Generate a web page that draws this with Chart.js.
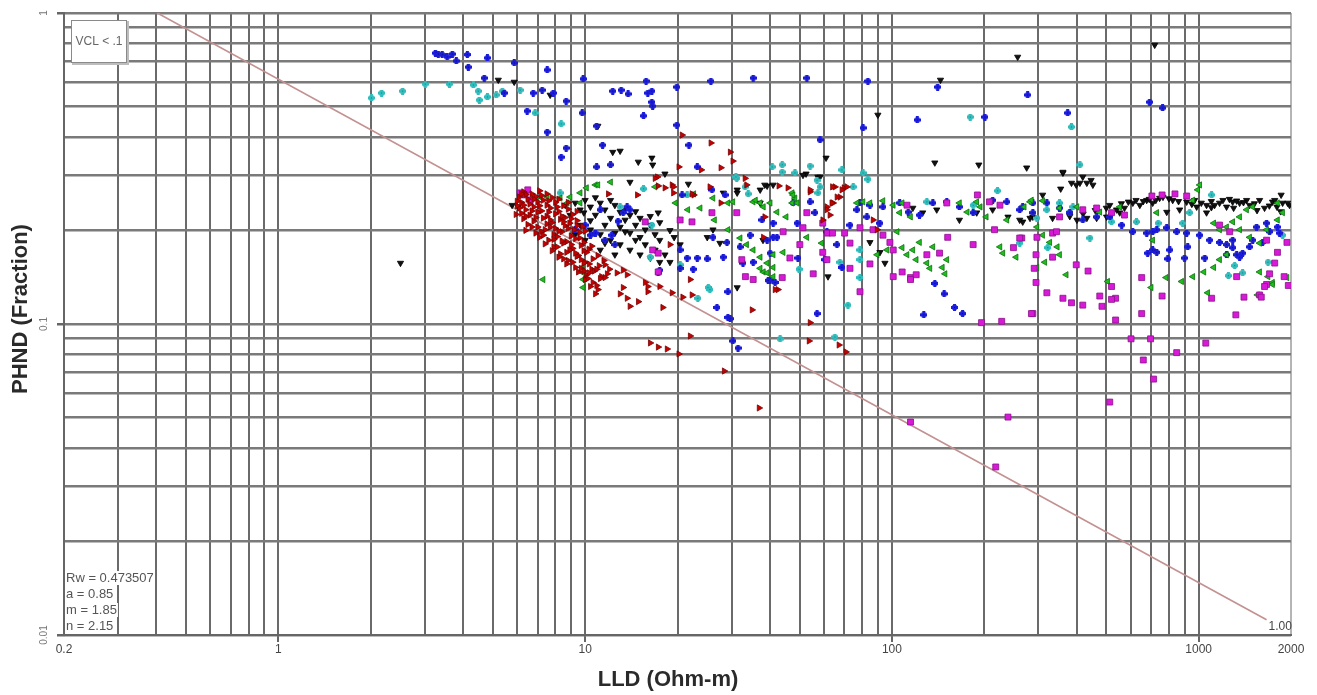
<!DOCTYPE html>
<html>
<head>
<meta charset="utf-8">
<title>Pickett plot - PHND vs LLD</title>
<script src="https://cdn.jsdelivr.net/npm/chart.js@4.4.1/dist/chart.umd.min.js"></script>
<style>
  html, body { margin: 0; padding: 0; background: #fff; }
  #wrap { width: 1317px; height: 695px; }
</style>
</head>
<body>
<div id="wrap"><canvas id="chart" width="1317" height="695"></canvas></div>
<script>
// Axis grid values and tick labels
const xGridValues = [0.2, 0.3, 0.4, 0.5, 0.6, 0.7, 0.8, 0.9, 1, 2, 3, 4, 5, 6, 7, 8, 9,
  10, 20, 30, 40, 50, 60, 70, 80, 90, 100, 200, 300, 400, 500, 600, 700, 800, 900, 1000, 2000];
const yGridValues = [0.01, 0.02, 0.03, 0.04, 0.05, 0.06, 0.07, 0.08, 0.09,
  0.1, 0.2, 0.3, 0.4, 0.5, 0.6, 0.7, 0.8, 0.9, 1];
const xLabelValues = [0.2, 1, 10, 100, 1000, 2000];
const xLabelTexts = ['0.2', '1', '10', '100', '1000', '2000'];
const yLabelValues = [0.01, 0.1, 1];
const yLabelTexts = ['0.01', '0.1', '1'];

// Sw = 1.00 line end points (LLD, PHND)
const swLine = [[0.403, 1], [1665, 0.0112]];
const swLabel = '1.00';
const paramLines = ['Rw = 0.473507', 'a = 0.85', 'm = 1.85', 'n = 2.15'];
const filterLabel = 'VCL < .1';

// Series, [LLD, PHND]
const redPts = [
  [6.3,0.266],[6.7,0.262],[7.1,0.268],[6.1,0.256],[6.5,0.252],[6.9,0.257],[7.3,0.250],[7.8,0.255],
  [6.2,0.246],[6.6,0.243],[7.0,0.247],[7.5,0.241],[8.0,0.246],[8.5,0.240],
  [6.1,0.236],[6.4,0.233],[6.8,0.238],[7.2,0.231],[7.7,0.236],[8.2,0.230],[8.8,0.234],
  [6.2,0.227],[6.6,0.224],[7.0,0.229],[7.5,0.222],[8.0,0.226],[8.6,0.220],[9.1,0.225],
  [6.3,0.218],[6.8,0.214],[7.3,0.219],[7.8,0.212],[8.3,0.217],[8.9,0.211],[9.4,0.215],
  [6.5,0.209],[7.0,0.205],[7.5,0.210],[8.0,0.203],[8.6,0.207],[9.2,0.201],[9.8,0.206],
  [6.4,0.200],[6.9,0.196],[7.4,0.201],[7.9,0.194],[8.4,0.198],[9.0,0.192],[9.6,0.197],
  [7.1,0.190],[7.6,0.186],[8.1,0.191],[8.7,0.184],[9.3,0.188],[9.9,0.183],
  [7.4,0.181],[7.9,0.177],[8.5,0.182],[9.1,0.175],[9.7,0.179],[10.3,0.174],
  [7.8,0.172],[8.3,0.168],[8.9,0.173],[9.5,0.166],[10.1,0.170],
  [8.2,0.164],[8.8,0.160],[9.4,0.165],[10.0,0.158],[10.6,0.162],
  [8.7,0.156],[9.3,0.152],[9.9,0.157],[10.5,0.150],[11.1,0.154],
  [9.5,0.147],[10.1,0.144],[10.7,0.148],[11.3,0.142],
  [10.0,0.139],[10.6,0.136],[11.2,0.140],[10.4,0.132],[11.0,0.129],[10.8,0.125],
  [6.0,0.240],[5.95,0.225],[11.5,0.160],[12.0,0.150],[11.8,0.145],
  [6.4,0.261],[6.8,0.252],[7.2,0.259],[7.6,0.249],[6.3,0.241],[6.7,0.231],[7.1,0.240],[7.6,0.229],
  [8.1,0.238],[8.4,0.222],[6.4,0.222],[6.9,0.220],[7.7,0.216],[8.5,0.213],[9.0,0.218],[6.7,0.205],
  [7.2,0.198],[7.7,0.205],[8.2,0.199],[8.8,0.203],[9.4,0.207],[7.3,0.193],[7.9,0.187],[8.4,0.185],
  [9.0,0.180],[9.6,0.189],[8.1,0.177],[8.7,0.170],[9.3,0.169],[9.9,0.172],[8.5,0.162],[9.1,0.158],
  [9.7,0.161],[10.3,0.156],[9.7,0.151],[10.3,0.146],[10.9,0.150],[10.2,0.140],[10.9,0.133],[9.9,0.148],
  [6.2,0.262],[6.0,0.248],[7.5,0.262],[8.2,0.252],[8.8,0.246],[9.4,0.230],[10.0,0.199],[10.5,0.178],
  [11.0,0.166],[11.6,0.155],
  [17.2,0.297],[19.2,0.280],[19.4,0.264],[14.8,0.260],[11.9,0.262],[18.2,0.274],[25.5,0.276],[22.6,0.260],
  [38.1,0.190],[18.9,0.180],[13.3,0.149],[13.7,0.144],[11.6,0.141],[13.3,0.131],[13.7,0.121],[12.7,0.146],
  [14.0,0.114],[14.9,0.118],[15.7,0.136],[16.0,0.132],[17.5,0.132],[19.2,0.126],[20.8,0.122],[22.0,0.139],
  [17.9,0.113],[35.0,0.111],[42.5,0.129],[13.0,0.125],[16.0,0.127],[22.3,0.124],
  [54.1,0.101],[53.7,0.0882],[67.2,0.0856],[70.8,0.0813],[22.0,0.0915],[16.3,0.0869],[17.3,0.0843],
  [18.5,0.0831],[20.2,0.0801],[28.4,0.0706],[36.9,0.0537],
  [20.7,0.405],[25.7,0.382],[29.7,0.357],[30.3,0.334],[20.2,0.320],[23.9,0.313],[27.7,0.318],[16.9,0.294],
  [19.4,0.276],[33.2,0.294],[33.6,0.280],[42.8,0.278],[54.1,0.266],[65.2,0.276],[69.8,0.274],[67.7,0.256],
  [64.3,0.245],[61.4,0.238],[17.3,0.278],[22.3,0.262],[27.7,0.245],
  [61.4,0.233],[63.7,0.245],[66.2,0.256],[68.7,0.270],[71.3,0.276],[64.0,0.276],[62.8,0.224],[59.5,0.216],
  [45.8,0.274],[54.1,0.270],[38.5,0.221],[86.8,0.216],[89.5,0.201],[41.6,0.129]
];

const magentaPts = [
  [6.14,0.264],[6.37,0.260],[6.62,0.250],[6.5,0.270],
  [15.7,0.213],[16.6,0.173],[17.3,0.169],[20.4,0.216],[22.3,0.213],[25.9,0.228],[31.2,0.228],[32.4,0.161],
  [35.3,0.139],[33.3,0.142],[17.3,0.147],
  [44.2,0.198],[51.3,0.204],[59.5,0.211],[61.6,0.196],[64.0,0.196],[70.1,0.196],[78.7,0.204],[86.8,0.201],
  [93.5,0.193],[98.5,0.183],[101,0.173],[59.5,0.170],[61.4,0.161],[73.0,0.182],[73.0,0.151],[55.4,0.145],
  [43.9,0.141],[46.5,0.163],[50.1,0.180],[52.8,0.228],[78.7,0.127],[84.8,0.156],[101,0.142],[108,0.147],
  [115,0.141],[120,0.144],[130,0.167],[143,0.169],[152,0.190],[184,0.180],[190,0.260],[216,0.201],
  [249,0.176],[265,0.189],[196,0.101],[228,0.102],[288,0.108],[112,0.241],[151,0.245],[208,0.247],[225,0.241],
  [261,0.189],[297,0.190],[334,0.196],[344,0.198],[295,0.167],[334,0.164],[291,0.151],[295,0.136],
  [320,0.126],[361,0.121],[385,0.117],[419,0.115],[399,0.155],[436,0.148],[476,0.123],[484,0.114],
  [520,0.132],[536,0.121],[536,0.103],[652,0.141],[652,0.108],[602,0.0896],[697,0.0896],[848,0.0809],
  [660,0.0766],[760,0.123],[1055,0.0868],[1102,0.121],[1322,0.107],[1330,0.142],[1405,0.122],[1580,0.124],
  [1665,0.134],[1703,0.145],[1770,0.157],[1807,0.170],[1940,0.183],[1900,0.142],
  [704,0.258],[760,0.260],[837,0.262],[914,0.258],[520,0.228],[573,0.224],[465,0.236],[419,0.233],
  [352,0.221],[1170,0.208],[1262,0.198],[1665,0.186],
  [115,0.139],[115,0.0484],[218,0.0347],[239,0.0502],[513,0.0561],[713,0.0665],[520,0.120],[285,0.108],
  [1600,0.122],[1640,0.132],[1960,0.133]
];

const greenPts = [
  [6.77,0.254],[7.13,0.256],[7.52,0.256],[8.29,0.254],[8.93,0.256],[9.63,0.264],[10.1,0.274],[10.8,0.280],
  [11.0,0.280],[12.1,0.286],[9.63,0.245],[8.74,0.245],[9.78,0.152],[9.85,0.146],[9.85,0.139],[9.85,0.131],
  [7.29,0.139],[16.9,0.276],[19.7,0.245],[21.6,0.233],[23.7,0.236],[26.4,0.216],[29.2,0.201],[32.0,0.189],
  [33.6,0.180],[35.3,0.173],[37.2,0.164],[39.2,0.157],[38.1,0.147],[41.0,0.142],[26.1,0.254],[30.3,0.247],
  [35.3,0.247],[38.1,0.238],[42.2,0.229],[22.6,0.262],[29.2,0.245],[35.9,0.250],[37.2,0.245],[47.3,0.264],
  [48.3,0.254],[47.3,0.245],[80.5,0.247],[84.8,0.245],[93.5,0.249],[108,0.245],[189,0.247],[282,0.247],[310,0.249],
  [40.1,0.245],[47.6,0.260],[49.1,0.245],[45.2,0.221],[41.0,0.167],[37.2,0.151],[39.2,0.146],[41.0,0.152],
  [44.2,0.170],[59.0,0.182],[52.8,0.190],[76.9,0.245],[101,0.241],[106,0.228],[115,0.221],[104,0.198],
  [108,0.176],[112,0.167],[117,0.173],[120,0.161],[130,0.157],[133,0.151],[136,0.177],[151,0.161],
  [146,0.152],[149,0.145],[166,0.245],[176,0.229],[194,0.238],[203,0.221],[225,0.177],[230,0.169],
  [254,0.164],[237,0.216],[270,0.238],[123,0.183],[89.5,0.167],[96.4,0.173],
  [285,0.250],[297,0.205],[310,0.193],[327,0.183],[346,0.177],[352,0.167],[315,0.158],[297,0.152],
  [370,0.144],[505,0.137],[700,0.131],[783,0.141],[880,0.137],[957,0.142],[1040,0.147],[1120,0.152],
  [1170,0.161],[1233,0.167],[1070,0.126],[1580,0.147],[1683,0.142],[1741,0.136],[1940,0.141],
  [1008,0.280],[993,0.270],[957,0.250],[1120,0.211],[1170,0.201],[1233,0.205],[1291,0.213],[1360,0.221],
  [1433,0.233],[1500,0.238],[1360,0.201],[1466,0.190],[1580,0.182],[1665,0.201],[1807,0.216],[1878,0.228],
  [1807,0.245],[352,0.236],[401,0.238],[476,0.229],[553,0.238],[730,0.228],[708,0.186],[1555,0.124],[1741,0.134]
];

const bluePts = [
  [3.25,0.743],[3.32,0.738],[3.42,0.735],[3.55,0.722],[3.69,0.738],[3.80,0.701],[4.13,0.735],[4.80,0.717],
  [4.16,0.670],[5.87,0.691],[4.69,0.618],[5.45,0.553],[7.52,0.656],[9.85,0.614],[6.77,0.553],[7.24,0.565],
  [7.87,0.553],[8.67,0.521],[6.47,0.484],[9.78,0.477],[7.52,0.414],[8.67,0.368],[8.35,0.344],[12.3,0.561],
  [13.1,0.565],[13.8,0.549],[15.8,0.604],[16.5,0.561],[16.0,0.553],[16.5,0.517],[16.6,0.502],[15.5,0.467],
  [19.9,0.578],[19.9,0.436],[21.8,0.376],[10.9,0.433],[11.4,0.376],[10.9,0.320],[12.1,0.325],[23.2,0.320],
  [25.7,0.604],[35.3,0.618],[52.8,0.618],[83.5,0.604],[58.3,0.391],[80.5,0.427],[141,0.578],[121,0.453],
  [201,0.463],[277,0.545],[374,0.477],[692,0.517],[763,0.495],[28.6,0.260],[25.9,0.270],[20.7,0.260],
  [37.7,0.216],[41.0,0.190],[47.6,0.245],[49.1,0.211],[54.1,0.247],[56.1,0.228],[61.4,0.198],[66.2,0.180],
  [73.0,0.208],[76.9,0.233],[82.9,0.221],[91.4,0.211],[78.7,0.245],[84.8,0.241],[93.5,0.238],[106,0.245],
  [113,0.229],[123,0.224],[136,0.245],[151,0.247],[166,0.238],[184,0.228],[213,0.250],[237,0.247],
  [261,0.233],[288,0.228],[40.1,0.138],[41.6,0.136],[138,0.135],[148,0.125],[160,0.113],[170,0.108],
  [127,0.107],[57.0,0.108],[49.4,0.163],[60.5,0.161],[68.7,0.152],
  [267,0.238],[288,0.245],[320,0.245],[352,0.236],[380,0.228],[419,0.216],[465,0.221],[513,0.221],
  [561,0.208],[610,0.198],[677,0.196],[708,0.198],[730,0.201],[787,0.204],[848,0.198],[914,0.196],
  [1008,0.193],[682,0.169],[708,0.173],[730,0.170],[805,0.173],[793,0.162],[900,0.163],[921,0.177],
  [1047,0.163],[1086,0.186],[1170,0.183],[1233,0.180],[1291,0.176],[1330,0.167],[1391,0.169],[1466,0.177],
  [1500,0.186],[1616,0.183],[1703,0.198],[1836,0.196],[1233,0.167],[1360,0.164],[1291,0.186],[1545,0.205],
  [1665,0.211],[1807,0.205],
  [13.7,0.238],[14.0,0.233],[13.3,0.228],[11.2,0.233],[10.8,0.196],[12.2,0.193],[20.4,0.173],[21.5,0.163],
  [23.2,0.163],[25.0,0.162],[20.4,0.151],[22.5,0.150],[17.5,0.149],[17.3,0.146],[26.9,0.113],[29.2,0.105],
  [29.2,0.127],[32.7,0.157],[35.3,0.158],[26.1,0.190],[29.0,0.183],[32.0,0.177],[28.2,0.164],[34.5,0.193],
  [39.2,0.186],[41.0,0.211],[40.1,0.169],[42.2,0.190],[29.7,0.104],[30.3,0.0882],[31.5,0.0837],[39.5,0.138],
  [9.27,0.201],[10.0,0.208],[10.4,0.193],[11.6,0.186],[12.5,0.180],[12.8,0.214]
];

const cyanPts = [
  [2.01,0.533],[2.17,0.553],[2.54,0.561],[3.01,0.591],[3.61,0.591],[4.32,0.587],[4.48,0.561],[4.52,0.525],
  [4.80,0.537],[5.13,0.545],[5.37,0.561],[6.14,0.565],[6.87,0.477],[8.35,0.440],
  [8.29,0.264],[15.5,0.272],[13.0,0.238],[16.5,0.208],[16.3,0.164],[31.2,0.294],[33.2,0.276],[21.5,0.260],
  [25.2,0.131],[23.3,0.121],[20.4,0.155],[40.7,0.320],[43.9,0.325],[54.1,0.322],[68.7,0.313],[80.5,0.306],
  [83.5,0.292],[31.0,0.297],[48.3,0.306],[57.0,0.290],[58.3,0.276],[180,0.463],[385,0.430],[410,0.325],
  [221,0.268],[34.0,0.262],[43.9,0.308],[57.4,0.264],[74.8,0.276],[78.7,0.173],[78.7,0.161],[49.8,0.150],
  [67.7,0.158],[78.7,0.141],[71.9,0.115],[43.2,0.0895],[65.2,0.0908],[130,0.247],[184,0.241],[261,0.182],
  [25.5,0.129],
  [320,0.233],[352,0.245],[389,0.238],[380,0.229],[442,0.189],[520,0.213],[627,0.213],[738,0.211],
  [887,0.211],[935,0.228],[1102,0.260],[1310,0.154],[1250,0.143],[1391,0.146],[1683,0.158],[1878,0.193],
  [322,0.176],[297,0.219]
];

const blackPts = [
  [257,0.722],[719,0.789],[144,0.609],[90.0,0.470],[5.21,0.609],[5.87,0.600],[7.69,0.545],[11.0,0.433],
  [12.3,0.357],[13.0,0.360],[14.9,0.332],[16.5,0.342],[16.6,0.325],[18.2,0.304],[21.7,0.282],[14.0,0.286],
  [17.3,0.228],[61.0,0.342],[138,0.330],[192,0.325],[275,0.318],[361,0.306],[355,0.272],[385,0.284],
  [410,0.284],[432,0.284],[452,0.280],[419,0.297],[361,0.308],[399,0.280],[446,0.290],[52.5,0.304],
  [57.4,0.297],[39.2,0.278],[41.0,0.280],[31.3,0.270],[310,0.260],[2.50,0.157],
  [26.1,0.201],[25.0,0.190],[27.5,0.182],[28.2,0.264],[31.3,0.264],[37.2,0.270],[31.3,0.131],[38.5,0.280],
  [37.2,0.245],[38.0,0.186],[51.3,0.301],[58.3,0.297],[84.8,0.183],[91.4,0.170],[94.9,0.157],[61.9,0.142],
  [117,0.236],[126,0.228],[140,0.233],[166,0.216],[189,0.228],[213,0.233],[239,0.221],[267,0.213],[288,0.221],
  [610,0.245],[677,0.250],[746,0.254],[823,0.250],[914,0.247],[985,0.238],[1061,0.241],[1170,0.245],
  [1291,0.247],[1433,0.250],[1580,0.250],[1741,0.247],[1878,0.245],[1978,0.241],[1857,0.260],[1360,0.245],
  [261,0.216],[282,0.219],[334,0.219],[401,0.216],[432,0.219],[465,0.219],[501,0.221],[553,0.228],
  [787,0.229],[867,0.233],[1061,0.228],[1233,0.238],
  [513,0.241],[573,0.236],[643,0.241],[708,0.245],[970,0.250],[1127,0.241],[1466,0.241],[1640,0.236],[1770,0.250],
  [560,0.244],[590,0.247],[625,0.250],[660,0.248],[690,0.252],[725,0.250],[765,0.256],[800,0.253],
  [860,0.248],[950,0.243],[1020,0.245],[1100,0.248],[1200,0.250],[1260,0.252],[1330,0.249],[1400,0.246],
  [1520,0.244],[1700,0.240],[1800,0.238],[1950,0.245],[1100,0.237],[1300,0.236],[1550,0.232],[1850,0.230],
  [380,0.222],[420,0.226],[460,0.232],[500,0.236],[540,0.233],
  [9.28,0.245],[9.63,0.233],[10.0,0.250],[10.4,0.238],[10.8,0.224],[11.2,0.245],[11.6,0.233],[12.1,0.219],
  [12.5,0.241],[13.0,0.229],[13.5,0.216],[14.0,0.224],[14.6,0.208],[15.1,0.219],[15.7,0.201],[16.3,0.208],
  [16.9,0.194],[17.5,0.186],[9.63,0.208],[10.4,0.201],[11.2,0.194],[12.1,0.186],[13.0,0.180],[14.0,0.173],
  [15.1,0.167],[16.3,0.163],[17.5,0.158],[18.9,0.158],[14.6,0.186],[15.7,0.180],[16.9,0.173],[18.2,0.167],
  [11.2,0.173],[12.5,0.167],[13.5,0.198],[11.6,0.208],[10.0,0.186],[8.93,0.224],[8.61,0.241],[9.28,0.194],
  [5.78,0.241],[6.05,0.238],[10.8,0.255],[12.1,0.250],[13.5,0.236],[14.6,0.230],[16.3,0.222],[17.5,0.212],
  [18.9,0.200],[19.5,0.190],[20.4,0.180],[13.0,0.205],[14.0,0.196],[15.1,0.190],[10.4,0.215],[12.5,0.196],
  [11.6,0.182],[9.9,0.228]
];

// small plus-shaped marker for the blue and cyan series
function plusMarker(fill, edge) {
  const c = document.createElement('canvas');
  c.width = 7; c.height = 7;
  const g = c.getContext('2d');
  g.globalAlpha = 0.55;
  g.fillStyle = edge;
  g.fillRect(1, 1, 5, 5);
  g.globalAlpha = 1;
  g.fillStyle = fill;
  g.fillRect(2, 0, 3, 7);
  g.fillRect(0, 2, 7, 3);
  g.fillStyle = edge;
  g.fillRect(3, 3, 1, 1);
  return c;
}

const toXY = pts => pts.map(([x, y]) => ({ x: x, y: y }));

function scatterSet(label, pts, style, fill, edge, radius, rotation) {
  return {
    type: 'scatter',
    label: label,
    data: toXY(pts),
    pointStyle: style,
    pointRadius: radius,
    pointRotation: rotation,
    pointBackgroundColor: fill,
    pointBorderColor: edge,
    pointBorderWidth: 0.8
  };
}

const FONT = '"Liberation Sans", Arial, sans-serif';

const annotations = {
  id: 'annotations',
  afterDraw(chart) {
    const ctx = chart.ctx;
    const xs = chart.scales.x, ys = chart.scales.y;
    const area = chart.chartArea;
    ctx.save();

    // tick labels
    ctx.fillStyle = '#444';
    ctx.font = '12px ' + FONT;
    ctx.textAlign = 'center';
    ctx.textBaseline = 'middle';
    xLabelValues.forEach((v, i) => {
      ctx.fillText(xLabelTexts[i], xs.getPixelForValue(v), area.bottom + 15);
    });
    ctx.fillStyle = '#777';
    ctx.font = '10px ' + FONT;
    yLabelValues.forEach((v, i) => {
      ctx.save();
      ctx.translate(area.left - 20, ys.getPixelForValue(v));
      ctx.rotate(-Math.PI / 2);
      ctx.fillText(yLabelTexts[i], 0, 0);
      ctx.restore();
    });

    // axis titles
    ctx.fillStyle = '#2a2a2a';
    ctx.font = 'bold 22px ' + FONT;
    ctx.fillText('LLD (Ohm-m)', 668, 680);
    ctx.save();
    ctx.translate(21, 309);
    ctx.rotate(-Math.PI / 2);
    ctx.fillText('PHND (Fraction)', 0, 0);
    ctx.restore();

    // filter box
    ctx.fillStyle = '#bdbdbd';
    ctx.fillRect(area.left + 8, area.top + 8, 57, 44);
    ctx.fillStyle = '#fff';
    ctx.fillRect(area.left + 7, area.top + 7, 55, 42);
    ctx.strokeStyle = '#8a8a8a';
    ctx.lineWidth = 1;
    ctx.strokeRect(area.left + 7.5, area.top + 7.5, 55, 42);
    ctx.fillStyle = '#666';
    ctx.font = '12px ' + FONT;
    ctx.fillText(filterLabel, area.left + 35, area.top + 29);

    // Archie parameters
    ctx.font = '13px ' + FONT;
    ctx.textAlign = 'left';
    paramLines.forEach((t, i) => {
      const y = area.bottom - 57 + i * 16;
      const w = ctx.measureText(t).width;
      ctx.fillStyle = '#fff';
      ctx.fillRect(area.left + 1, y - 7, w + 2, 14);
      ctx.fillStyle = '#555';
      ctx.fillText(t, area.left + 2, y);
    });

    // Sw label at the end of the line
    ctx.font = '12px ' + FONT;
    ctx.fillStyle = '#444';
    const end = swLine[swLine.length - 1];
    ctx.fillText(swLabel, xs.getPixelForValue(end[0]) + 2, ys.getPixelForValue(end[1]) + 7);
    ctx.restore();
  }
};

const ctx = document.getElementById('chart').getContext('2d');
new Chart(ctx, {
  data: {
    datasets: [
      scatterSet('red', redPts, 'triangle', '#c40000', '#7a0000', 3.6, 90),
      scatterSet('magenta', magentaPts, 'rect', '#d81ad8', '#8a108a', 4.2, 0),
      scatterSet('green', greenPts, 'triangle', '#1cc01c', '#0d6d0d', 3.6, 270),
      scatterSet('blue', bluePts, plusMarker('#1c1cdc', '#0a0a80'), '#1c1cdc', '#0a0a80', 3.5, 0),
      scatterSet('cyan', cyanPts, plusMarker('#30bdbd', '#1a7a7a'), '#30bdbd', '#1a7a7a', 3.5, 0),
      scatterSet('black', blackPts, 'triangle', '#111', '#000', 3.6, 180),
      {
        type: 'line',
        label: 'Sw 1.00',
        data: toXY(swLine),
        borderColor: '#c39191',
        borderWidth: 1.6,
        pointRadius: 0,
        fill: false
      }
    ]
  },
  options: {
    responsive: false,
    animation: false,
    events: [],
    layout: { padding: { left: 0, top: 13, right: 26, bottom: 0 } },
    plugins: {
      legend: { display: false },
      tooltip: { enabled: false }
    },
    scales: {
      x: {
        type: 'logarithmic',
        min: 0.2,
        max: 2000,
        afterBuildTicks: s => { s.ticks = xGridValues.map(v => ({ value: v })); },
        afterFit: s => { s.height = 60; },
        ticks: { display: false },
        border: { display: true, color: '#666', width: 2 },
        grid: {
          color: c => (c.tick && c.tick.value === 2000) ? '#b5b5b5' : '#6a6a6a',
          lineWidth: 2,
          drawTicks: true,
          tickLength: 7,
          tickColor: c => (c.tick && [1, 10, 100, 1000].includes(c.tick.value)) ? '#666' : 'rgba(0,0,0,0)'
        }
      },
      y: {
        type: 'logarithmic',
        min: 0.01,
        max: 1,
        afterBuildTicks: s => { s.ticks = yGridValues.map(v => ({ value: v })); },
        afterFit: s => { s.width = 64; },
        ticks: { display: false },
        border: { display: true, color: '#666', width: 2 },
        grid: {
          color: '#7a7a7a',
          lineWidth: 2.5,
          drawTicks: true,
          tickLength: 7,
          tickColor: c => (c.tick && yLabelValues.includes(c.tick.value)) ? '#666' : 'rgba(0,0,0,0)'
        }
      }
    }
  },
  plugins: [annotations]
});
</script>
</body>
</html>
